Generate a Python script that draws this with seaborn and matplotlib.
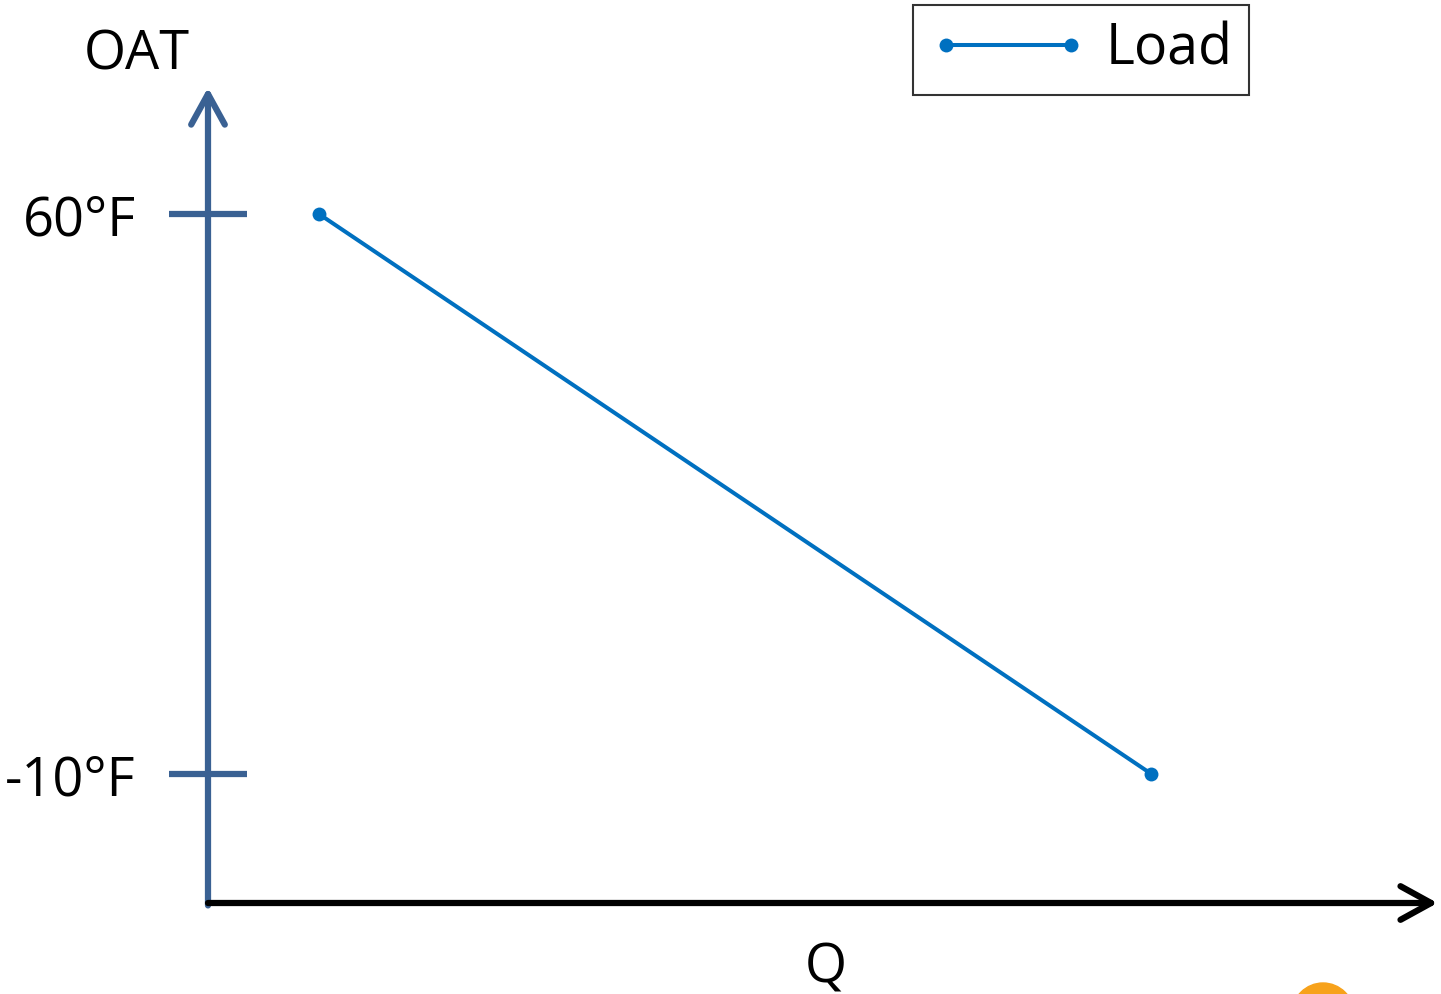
import matplotlib
matplotlib.use("Agg")
import matplotlib.pyplot as plt
import seaborn as sns
import pandas as pd
from matplotlib.patches import Circle

# Data
series_name = "Load"
q_values = [10, 85]          # Q (arbitrary units)
oat_values = [60, -10]       # outdoor air temperature, °F
ytick_values = [-10, 60]
ytick_labels = ["-10°F", "60°F"]
x_label = "Q"
y_label = "OAT"

df = pd.DataFrame({"Q": q_values, "OAT": oat_values, "series": series_name})

sns.set_theme(style="white")
plt.rcParams["font.family"] = ["Open Sans", "DejaVu Sans"]
plt.rcParams["text.color"] = "black"

W, H = 1441, 994
fig = plt.figure(figsize=(W / 100, H / 100), dpi=100)
ax = fig.add_axes([208 / W, (H - 903) / H, (1440 - 208) / W, (903 - 90) / H])

line_color = "#0070C0"
axis_blue = "#3A6193"

sns.lineplot(data=df, x="Q", y="OAT", hue="series", palette=[line_color],
             marker="o", markersize=10, markeredgewidth=0, linewidth=2.9,
             ax=ax, sort=False)

ax.set_xlim(0, 111)
ax.set_ylim(-26.125, 75.5)

for s in ax.spines.values():
    s.set_visible(False)

# axes with arrows
ax.annotate("", xy=(0, 1.003), xytext=(0, -0.003), xycoords="axes fraction",
            arrowprops=dict(arrowstyle="->,head_length=1.0,head_width=0.55",
                            lw=4.5, color=axis_blue, shrinkA=0, shrinkB=0,
                            mutation_scale=22))
ax.annotate("", xy=(0.998, 0), xytext=(0, 0), xycoords="axes fraction",
            arrowprops=dict(arrowstyle="->,head_length=1.0,head_width=0.55",
                            lw=4.5, color="black", shrinkA=0, shrinkB=0,
                            mutation_scale=22))

ax.set_xticks([])
ax.set_yticks(ytick_values)
ax.set_yticklabels(ytick_labels, fontsize=39, color="black")
ax.tick_params(axis="y", direction="inout", length=56, width=4.5,
               color=axis_blue, pad=24, left=True)

ax.set_xlabel("")
ax.set_ylabel("")
fig.text(137 / W, 1 - 55 / H, y_label, fontsize=39, ha="center", va="center",
         color="black")
fig.text(826 / W, 1 - 968 / H, x_label, fontsize=39, ha="center", va="center",
         color="black")

leg = ax.legend(loc="upper right", bbox_to_anchor=(1249 / W, 1 - 5 / H),
                bbox_transform=fig.transFigure, fontsize=40, frameon=True,
                fancybox=False, edgecolor="black", numpoints=2,
                handlelength=2.85, handletextpad=0.32, borderpad=0.3,
                borderaxespad=0)
leg.get_frame().set_linewidth(1.5)
for t in leg.get_texts():
    t.set_color("black")
for h in leg.legend_handles:
    h.set_markersize(10)
    h.set_linewidth(2.9)

# logo fragment at bottom-right corner (display/pixel coordinates)
fig.patches.append(Circle((1323, -20), 31, transform=None,
                          color="#F7A21B", clip_on=False))

fig.savefig("out.png", dpi=100)
